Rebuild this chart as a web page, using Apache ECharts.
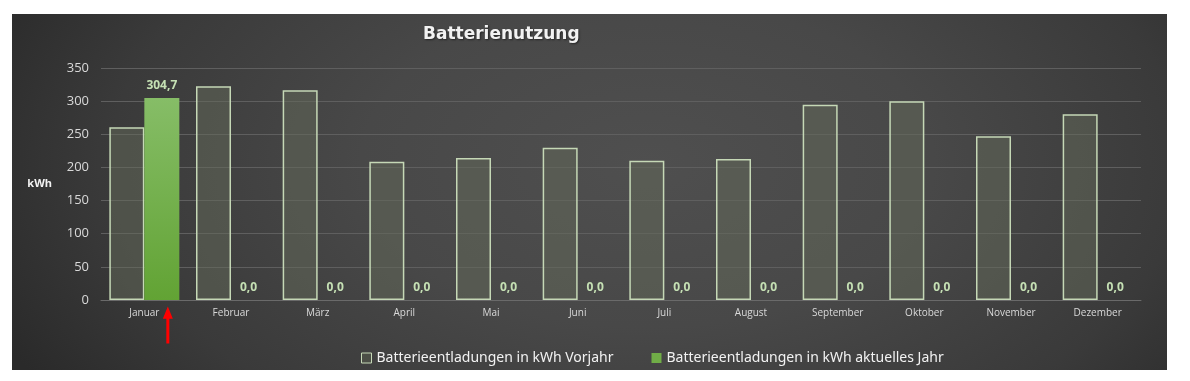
<!DOCTYPE html>
<html><head><meta charset="utf-8">
<script src="https://cdn.jsdelivr.net/npm/echarts@6/dist/echarts.min.js"></script>
<style>
html,body{margin:0;padding:0;background:#fff}
#wrap{position:relative;width:1190px;height:381px}
#panel{position:absolute;left:12px;top:14px;width:1155px;height:356px;
  background:radial-gradient(ellipse 62% 115% at 55% 42%, #4f4f4f 0%, #484848 40%, #3a3a3a 75%, #2a2a2a 100%);}
#c{position:absolute;left:0;top:0;width:1190px;height:381px}
</style>
</head><body><div id="wrap"><div id="panel"></div><div id="c"></div></div>
<script>
const categories = ['Januar','Februar','März','April','Mai','Juni','Juli','August','September','Oktober','November','Dezember'];
const vorjahr = [260.5, 322.6, 316.6, 208.4, 214.4, 229.5, 209.9, 212.9, 294.4, 300.0, 247.1, 280.4];
const aktuell = [304.7, 0, 0, 0, 0, 0, 0, 0, 0, 0, 0, 0];
const yTicks = [0, 50, 100, 150, 200, 250, 300, 350];
const seriesNames = ['Batterieentladungen in kWh Vorjahr', 'Batterieentladungen in kWh aktuelles Jahr'];
const titleText = 'Batterienutzung';
const unit = 'kWh';

const FONT = 'Open Sans';
const chart = echarts.init(document.getElementById('c'));
chart.setOption({
  animation: false,
  textStyle: { fontFamily: FONT },
  title: {
    text: titleText, left: 418, top: 21,
    textStyle: { color: '#f2f2f2', fontSize: 17, fontWeight: 'bold', fontFamily: 'DejaVu Sans',
      textShadowColor: 'rgba(0,0,0,0.5)', textShadowBlur: 2, textShadowOffsetX: 1, textShadowOffsetY: 1 }
  },
  legend: {
    left: 356, top: 346, itemWidth: 10, itemHeight: 10, itemGap: 38, icon: 'rect',
    textStyle: { color: '#f2f2f2', fontSize: 14, fontFamily: 'Noto Sans' },
    data: [
      { name: seriesNames[0], itemStyle: { color: '#4b4e46', borderColor: '#c5d8b6', borderWidth: 1 } },
      { name: seriesNames[1], itemStyle: { color: '#70ad47', borderWidth: 0 } }
    ]
  },
  grid: { left: 101, right: 49, top: 68, bottom: 81 },
  xAxis: {
    type: 'category', data: categories,
    axisLine: { show: true, lineStyle: { color: '#6a6a6a' } },
    axisTick: { show: false },
    axisLabel: { color: '#d9d9d9', fontSize: 10, margin: 8 }
  },
  yAxis: {
    type: 'value', min: 0, max: 350, interval: 50,
    name: unit, nameLocation: 'middle', nameGap: 49, nameRotate: 0,
    nameTextStyle: { color: '#f2f2f2', fontSize: 11, fontWeight: 'bold' },
    axisLine: { show: false }, axisTick: { show: false },
    axisLabel: { color: '#d9d9d9', fontSize: 13, margin: 12,
      formatter: v => yTicks.includes(v) ? String(v) : '' },
    splitLine: { lineStyle: { color: '#5f5f5f', width: 1 } }
  },
  series: [
    {
      name: seriesNames[0], type: 'bar', data: vorjahr,
      barWidth: 35, barGap: '0%',
      itemStyle: { color: 'rgba(100,106,90,0.5)', borderColor: '#c5d8b6', borderWidth: 1.5 }
    },
    {
      name: seriesNames[1], type: 'bar', data: aktuell,
      barWidth: 35,
      itemStyle: { color: { type: 'linear', x: 0, y: 0, x2: 0, y2: 1, colorStops: [
        { offset: 0, color: '#86bd67' }, { offset: 1, color: '#62a334' } ] } },
      label: { show: true, position: 'top', distance: 6, color: '#c5e0b4', fontWeight: 'bold', fontSize: 12,
        formatter: p => p.value.toFixed(1).replace('.', ',') },
      markPoint: {
        silent: true,
        data: [{ coord: [categories[0], 0] }],
        symbol: 'path://M5,0 L10,12 L6.5,12 L6.5,36 L3.5,36 L3.5,12 L0,12 Z',
        symbolSize: [10, 37], symbolKeepAspect: false, symbolOffset: [6, 25],
        itemStyle: { color: '#ff0000' },
        label: { show: false }
      }
    }
  ]
});
</script></body></html>
